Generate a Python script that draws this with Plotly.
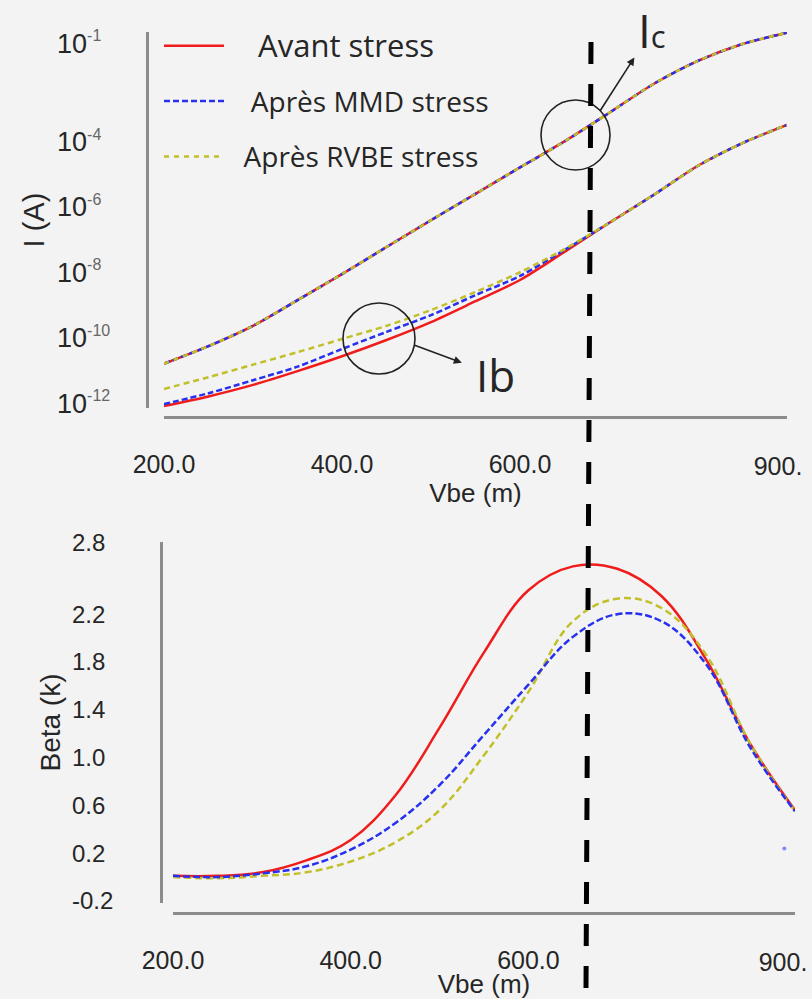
import plotly.graph_objects as go

# ---------------- data ----------------
vbe = [200, 250, 300, 350, 400, 450, 500, 550, 600, 650, 700, 750, 800, 850, 900]

ic_avant = [1.6e-11, 5.5e-11, 2.3e-10, 1.4e-9, 8.8e-9, 5.9e-8, 3.9e-7, 2.5e-6,
            1.6e-5, 1.0e-4, 7.4e-4, 5.7e-3, 2.9e-2, 9.5e-2, 2.1e-1]
ic_mmd = [1.6e-11, 5.5e-11, 2.3e-10, 1.4e-9, 8.8e-9, 5.9e-8, 3.9e-7, 2.5e-6,
          1.6e-5, 1.0e-4, 7.4e-4, 5.7e-3, 2.9e-2, 9.5e-2, 2.1e-1]
ic_rvbe = [1.6e-11, 5.5e-11, 2.3e-10, 1.4e-9, 8.8e-9, 5.9e-8, 3.9e-7, 2.5e-6,
           1.6e-5, 1.0e-4, 7.4e-4, 5.7e-3, 2.9e-2, 9.5e-2, 2.1e-1]

ib_avant = [8.1e-13, 1.6e-12, 3.6e-12, 9.5e-12, 2.7e-11, 8.5e-11, 3.0e-10, 1.3e-9,
            5.8e-9, 4.2e-8, 3.2e-7, 2.3e-6, 1.8e-5, 8.9e-5, 3.2e-4]
ib_mmd = [9.3e-13, 2.0e-12, 5.0e-12, 1.3e-11, 4.5e-11, 1.5e-10, 4.9e-10, 2.0e-9,
          7.7e-9, 4.8e-8, 3.2e-7, 2.3e-6, 1.8e-5, 8.9e-5, 3.2e-4]
ib_rvbe = [2.7e-12, 6.2e-12, 1.5e-11, 3.6e-11, 9.1e-11, 2.3e-10, 7.0e-10, 2.5e-9,
           1.0e-8, 5.1e-8, 3.2e-7, 2.3e-6, 1.8e-5, 8.9e-5, 3.2e-4]

beta_avant = [0.01, 0.01, 0.04, 0.14, 0.31, 0.68, 1.25, 1.88, 2.40, 2.60, 2.58, 2.35, 1.82, 1.11, 0.56]
beta_mmd = [0.01, 0.00, 0.03, 0.09, 0.23, 0.45, 0.77, 1.19, 1.61, 2.01, 2.20, 2.14, 1.78, 1.08, 0.55]
beta_rvbe = [0.00, -0.01, 0.01, 0.04, 0.13, 0.29, 0.56, 1.02, 1.55, 2.14, 2.33, 2.25, 1.86, 1.11, 0.55]

stray_vbe = [888]
stray_beta = [0.24]

series_names = ["Avant stress", "Après MMD stress", "Après RVBE stress"]

x_tickvals = [200, 400, 600]
x_ticktext = ["200.0", "400.0", "600.0"]
x_end_tickvals = [900]
x_end_ticktext = ["900."]
i_tickvals = [1e-1, 1e-4, 1e-6, 1e-8, 1e-10, 1e-12]
i_exponents = ["-1", "-4", "-6", "-8", "-10", "-12"]
beta_tickvals = [2.8, 2.2, 1.8, 1.4, 1.0, 0.6, 0.2, -0.2]

# ---------------- helpers ----------------
W, H = 812, 999


def px(x):
    return x / W


def py(y):
    return 1 - y / H


RED = "#f01c1c"
BLUE = "#2630ee"
YEL = "#c2c02a"
AXC = "#8c8c8c"
TXT = "#262626"
BG = "#f3f3f3"
SANS = "Liberation Sans, Arial, sans-serif"
OPEN = "Open Sans, sans-serif"

fig = go.Figure()

legend_labels = [
    "\u00a0\u00a0\u00a0\u00a0<span style='font-size:31px'>" + series_names[0] + "</span>",
    "\u00a0\u00a0\u00a0" + series_names[1],
    "\u00a0\u00a0" + series_names[2],
]

SPL = dict(shape="spline", smoothing=0.8)
SPLB = dict(shape="spline", smoothing=1.1)

# top: currents
fig.add_trace(go.Scatter(x=vbe, y=ic_avant, xaxis="x", yaxis="y", mode="lines",
                         line=dict(color=RED, width=2.5, **SPL),
                         name=legend_labels[0], legendgroup="a", showlegend=True))
fig.add_trace(go.Scatter(x=vbe, y=ib_avant, xaxis="x", yaxis="y", mode="lines",
                         line=dict(color=RED, width=2.5, **SPL),
                         name=legend_labels[0], legendgroup="a", showlegend=False))
fig.add_trace(go.Scatter(x=vbe, y=ic_mmd, xaxis="x", yaxis="y3", mode="lines",
                         line=dict(color=BLUE, width=2.5, dash="6px,3px", **SPL),
                         name=legend_labels[1], legendgroup="b", showlegend=True))
fig.add_trace(go.Scatter(x=vbe, y=ib_mmd, xaxis="x", yaxis="y3", mode="lines",
                         line=dict(color=BLUE, width=2.5, dash="6px,3px", **SPL),
                         name=legend_labels[1], legendgroup="b", showlegend=False))
fig.add_trace(go.Scatter(x=vbe, y=ic_rvbe, xaxis="x3", yaxis="y3", mode="lines",
                         line=dict(color=YEL, width=2.5, dash="5px,5px", **SPL),
                         name=legend_labels[2], legendgroup="c", showlegend=True))
fig.add_trace(go.Scatter(x=vbe, y=ib_rvbe, xaxis="x3", yaxis="y3", mode="lines",
                         line=dict(color=YEL, width=2.5, dash="6px,4px", **SPL),
                         name=legend_labels[2], legendgroup="c", showlegend=False))

# bottom: beta
fig.add_trace(go.Scatter(x=vbe, y=beta_avant, xaxis="x2", yaxis="y2", mode="lines",
                         line=dict(color=RED, width=2.5, **SPLB),
                         name=legend_labels[0], legendgroup="a", showlegend=False))
fig.add_trace(go.Scatter(x=vbe, y=beta_rvbe, xaxis="x4", yaxis="y4", mode="lines",
                         line=dict(color=YEL, width=2.5, dash="7px,4px", **SPLB),
                         name=legend_labels[2], legendgroup="c", showlegend=False))
fig.add_trace(go.Scatter(x=vbe, y=beta_mmd, xaxis="x4", yaxis="y4", mode="lines",
                         line=dict(color=BLUE, width=2.5, dash="7px,3px", **SPLB),
                         name=legend_labels[1], legendgroup="b", showlegend=False))
fig.add_trace(go.Scatter(x=stray_vbe, y=stray_beta, xaxis="x4", yaxis="y4", mode="markers",
                         marker=dict(color="#7f8cf5", size=4), showlegend=False, hoverinfo="skip"))

i_ticktext = ["10<sup><span style='font-size:16px;fill:#666'>%s</span></sup>" % e for e in i_exponents]
beta_ticktext = ["%.1f" % v for v in beta_tickvals]


def x_axis(domain, pos, title_standoff):
    return dict(domain=domain, anchor="free", position=pos,
                showgrid=False, zeroline=False, showline=True, linecolor=AXC, linewidth=2.5,
                ticks="", tickvals=x_tickvals, ticktext=x_ticktext, range=[200, 900],
                automargin=False,
                tickfont=dict(family=SANS, size=25, color=TXT), ticklabelstandoff=24,
                title=dict(text="Vbe (m)", font=dict(family=SANS, size=26, color=TXT),
                           standoff=title_standoff))


def x_end_axis(over, domain, pos, shift):
    # carries only the last (truncated) label at the right end of the axis
    return dict(overlaying=over, domain=domain, anchor="free", position=pos,
                showgrid=False, zeroline=False, showline=False,
                ticks="", tickvals=x_end_tickvals, ticktext=x_end_ticktext, range=[200, 900],
                automargin=False, ticklabeloverflow="allow", ticklabelshift=shift,
                tickfont=dict(family=SANS, size=25, color=TXT), ticklabelstandoff=32)


fig.update_layout(
    width=W, height=H,
    margin=dict(l=0, r=0, t=0, b=0, autoexpand=False),
    paper_bgcolor=BG, plot_bgcolor="rgba(0,0,0,0)",
    showlegend=True,
    legend=dict(x=px(159), y=py(21), xanchor="left", yanchor="top",
                bgcolor="rgba(0,0,0,0)", itemwidth=60, tracegroupgap=16,
                font=dict(family=OPEN, size=28, color=TXT)),
    xaxis=x_axis([px(164), px(787)], py(417), 0),
    xaxis2=x_axis([px(173), px(795)], py(913), 4),
    xaxis3=x_end_axis("x", [px(164), px(787)], py(417), -9),
    xaxis4=x_end_axis("x2", [px(173), px(795)], py(913), -12),
    yaxis=dict(domain=[py(408), py(32)], type="log", range=[-12.15, -0.655], automargin=False,
               anchor="free", position=px(147), showline=True, linecolor=AXC, linewidth=2.5,
               showgrid=False, zeroline=False, ticks="", showticklabels=False,
               title=dict(text="I (A)", font=dict(family=SANS, size=29, color=TXT), standoff=92)),
    yaxis3=dict(overlaying="y", side="right", type="log", range=[-12.15, -0.655], automargin=False,
                anchor="free", position=px(56), showline=False, showgrid=False, zeroline=False,
                ticks="", tickvals=i_tickvals, ticktext=i_ticktext,
                tickfont=dict(family=SANS, size=27, color=TXT)),
    yaxis2=dict(domain=[py(903), py(542)], range=[-0.217, 2.804], automargin=False,
                anchor="free", position=px(161), showline=True, linecolor=AXC, linewidth=2.5,
                showgrid=False, zeroline=False, ticks="", showticklabels=False,
                title=dict(text="Beta (k)", font=dict(family=SANS, size=28, color=TXT), standoff=90)),
    yaxis4=dict(overlaying="y2", side="right", range=[-0.217, 2.804], automargin=False,
                anchor="free", position=px(71), showline=False, showgrid=False, zeroline=False,
                ticks="", tickvals=beta_tickvals, ticktext=beta_ticktext,
                tickfont=dict(family=SANS, size=24, color=TXT)),
)

# highlight circles and the dashed marker line
fig.add_shape(type="circle", xref="paper", yref="paper",
              x0=px(541), x1=px(610), y0=py(170), y1=py(100),
              line=dict(color="#222222", width=1.6))
fig.add_shape(type="circle", xref="paper", yref="paper",
              x0=px(343), x1=px(415), y0=py(374), y1=py(303),
              line=dict(color="#222222", width=1.6))
fig.add_shape(type="line", xref="paper", yref="paper",
              x0=px(591), y0=py(42), x1=px(586), y1=py(988),
              line=dict(color="black", width=5, dash="22px,20px"))

# labels with arrows (head on the label side)
fig.add_annotation(xref="paper", yref="paper", x=px(600), y=py(111), ax=52, ay=-81,
                   axref="pixel", ayref="pixel", showarrow=True, height=40, valign="middle",
                   text="I<span style='font-size:31px'>c</span>",
                   font=dict(family=OPEN, size=46, color=TXT),
                   arrowside="start", startarrowhead=2, startarrowsize=1, arrowwidth=1.6,
                   arrowcolor="#222222", startstandoff=7, standoff=0)
fig.add_annotation(xref="paper", yref="paper", x=px(414), y=py(345), ax=81, ay=30,
                   axref="pixel", ayref="pixel", showarrow=True,
                   text="Ib",
                   font=dict(family=OPEN, size=44, color=TXT),
                   arrowside="start", startarrowhead=2, startarrowsize=1, arrowwidth=1.6,
                   arrowcolor="#222222", startstandoff=13, standoff=0)

fig.write_html("out.html")
